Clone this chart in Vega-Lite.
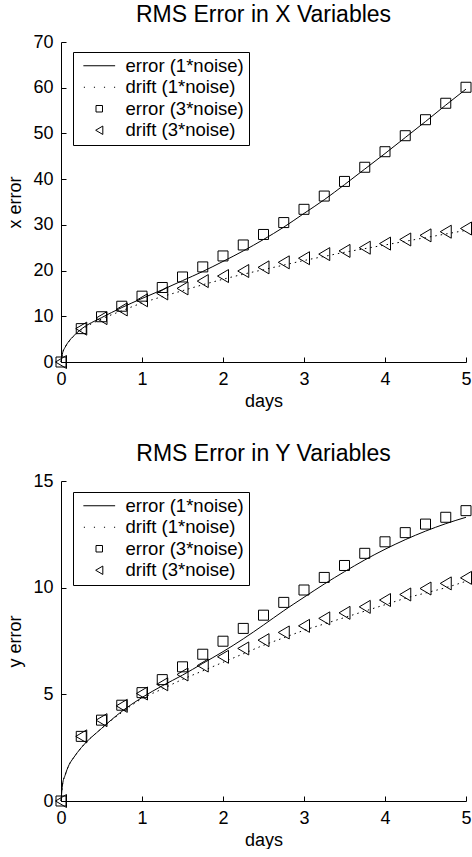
{
  "$schema": "https://vega.github.io/schema/vega-lite/v6.json",
  "background": "white",
  "padding": {"left": 6, "top": 4, "right": 0, "bottom": 0},
  "config": {
    "font": "Liberation Sans",
    "view": {"stroke": null},
    "axis": {
      "grid": false,
      "domainColor": "black",
      "domainWidth": 1,
      "tickColor": "black",
      "tickWidth": 1,
      "tickSize": -5,
      "labelColor": "black",
      "labelFontSize": 18,
      "labelPadding": 13,
      "labelFlush": false,
      "labelOverlap": false,
      "titleColor": "black",
      "titleFontSize": 18,
      "titleFontWeight": "normal"
    },
    "axisY": {"titlePadding": 8},
    "axisX": {"titlePadding": 4},
    "title": {"fontSize": 23, "fontWeight": "normal", "color": "black", "offset": 6, "anchor": "middle"},
    "legend": {
      "orient": "none",
      "legendX": 12,
      "legendY": 10,
      "title": null,
      "labelFontSize": 18.5,
      "labelColor": "black",
      "strokeColor": "black",
      "strokeWidth": 1,
      "fillColor": "white",
      "padding": 4.5,
      "rowPadding": 2.5,
      "symbolOffset": 12.5,
      "labelOffset": 17,
      "symbolSize": 42,
      "symbolStrokeWidth": 1,
      "symbolStrokeColor": "black",
      "symbolFillColor": "transparent"
    }
  },
  "spacing": 33,
  "resolve": {"scale": {"shape": "independent"}, "legend": {"shape": "independent"}},
  "data": {"values": [
    {"panel": "X", "series": "error (1*noise)", "days": 0, "value": 0},
    {"panel": "X", "series": "error (1*noise)", "days": 0.02, "value": 2.0},
    {"panel": "X", "series": "error (1*noise)", "days": 0.05, "value": 3.2},
    {"panel": "X", "series": "error (1*noise)", "days": 0.1, "value": 4.6},
    {"panel": "X", "series": "error (1*noise)", "days": 0.15, "value": 5.6},
    {"panel": "X", "series": "error (1*noise)", "days": 0.25, "value": 7.2},
    {"panel": "X", "series": "error (1*noise)", "days": 0.5, "value": 9.7},
    {"panel": "X", "series": "error (1*noise)", "days": 0.75, "value": 11.9},
    {"panel": "X", "series": "error (1*noise)", "days": 1.0, "value": 13.9},
    {"panel": "X", "series": "error (1*noise)", "days": 1.25, "value": 15.8},
    {"panel": "X", "series": "error (1*noise)", "days": 1.5, "value": 17.8},
    {"panel": "X", "series": "error (1*noise)", "days": 1.75, "value": 19.8},
    {"panel": "X", "series": "error (1*noise)", "days": 2.0, "value": 22.0},
    {"panel": "X", "series": "error (1*noise)", "days": 2.25, "value": 24.3},
    {"panel": "X", "series": "error (1*noise)", "days": 2.5, "value": 26.8},
    {"panel": "X", "series": "error (1*noise)", "days": 2.75, "value": 29.5},
    {"panel": "X", "series": "error (1*noise)", "days": 3.0, "value": 32.5},
    {"panel": "X", "series": "error (1*noise)", "days": 3.25, "value": 35.5},
    {"panel": "X", "series": "error (1*noise)", "days": 3.5, "value": 38.8},
    {"panel": "X", "series": "error (1*noise)", "days": 3.75, "value": 42.2},
    {"panel": "X", "series": "error (1*noise)", "days": 4.0, "value": 45.6},
    {"panel": "X", "series": "error (1*noise)", "days": 4.25, "value": 49.1},
    {"panel": "X", "series": "error (1*noise)", "days": 4.5, "value": 52.6},
    {"panel": "X", "series": "error (1*noise)", "days": 4.75, "value": 56.2},
    {"panel": "X", "series": "error (1*noise)", "days": 5.0, "value": 59.7},

    {"panel": "X", "series": "drift (1*noise)", "days": 0, "value": 0},
    {"panel": "X", "series": "drift (1*noise)", "days": 0.02, "value": 2.0},
    {"panel": "X", "series": "drift (1*noise)", "days": 0.05, "value": 3.2},
    {"panel": "X", "series": "drift (1*noise)", "days": 0.1, "value": 4.5},
    {"panel": "X", "series": "drift (1*noise)", "days": 0.15, "value": 5.5},
    {"panel": "X", "series": "drift (1*noise)", "days": 0.25, "value": 7.0},
    {"panel": "X", "series": "drift (1*noise)", "days": 0.5, "value": 9.4},
    {"panel": "X", "series": "drift (1*noise)", "days": 0.75, "value": 11.2},
    {"panel": "X", "series": "drift (1*noise)", "days": 1.0, "value": 12.9},
    {"panel": "X", "series": "drift (1*noise)", "days": 1.25, "value": 14.3},
    {"panel": "X", "series": "drift (1*noise)", "days": 1.5, "value": 15.6},
    {"panel": "X", "series": "drift (1*noise)", "days": 1.75, "value": 16.9},
    {"panel": "X", "series": "drift (1*noise)", "days": 2.0, "value": 18.1},
    {"panel": "X", "series": "drift (1*noise)", "days": 2.25, "value": 19.2},
    {"panel": "X", "series": "drift (1*noise)", "days": 2.5, "value": 20.2},
    {"panel": "X", "series": "drift (1*noise)", "days": 2.75, "value": 21.2},
    {"panel": "X", "series": "drift (1*noise)", "days": 3.0, "value": 22.2},
    {"panel": "X", "series": "drift (1*noise)", "days": 3.25, "value": 23.1},
    {"panel": "X", "series": "drift (1*noise)", "days": 3.5, "value": 24.0},
    {"panel": "X", "series": "drift (1*noise)", "days": 3.75, "value": 24.8},
    {"panel": "X", "series": "drift (1*noise)", "days": 4.0, "value": 25.6},
    {"panel": "X", "series": "drift (1*noise)", "days": 4.25, "value": 26.4},
    {"panel": "X", "series": "drift (1*noise)", "days": 4.5, "value": 27.2},
    {"panel": "X", "series": "drift (1*noise)", "days": 4.75, "value": 28.0},
    {"panel": "X", "series": "drift (1*noise)", "days": 5.0, "value": 28.8},

    {"panel": "X", "series": "error (3*noise)", "days": 0, "value": 0},
    {"panel": "X", "series": "error (3*noise)", "days": 0.25, "value": 7.3},
    {"panel": "X", "series": "error (3*noise)", "days": 0.5, "value": 9.9},
    {"panel": "X", "series": "error (3*noise)", "days": 0.75, "value": 12.2},
    {"panel": "X", "series": "error (3*noise)", "days": 1.0, "value": 14.4},
    {"panel": "X", "series": "error (3*noise)", "days": 1.25, "value": 16.3},
    {"panel": "X", "series": "error (3*noise)", "days": 1.5, "value": 18.6},
    {"panel": "X", "series": "error (3*noise)", "days": 1.75, "value": 20.8},
    {"panel": "X", "series": "error (3*noise)", "days": 2.0, "value": 23.2},
    {"panel": "X", "series": "error (3*noise)", "days": 2.25, "value": 25.6},
    {"panel": "X", "series": "error (3*noise)", "days": 2.5, "value": 27.9},
    {"panel": "X", "series": "error (3*noise)", "days": 2.75, "value": 30.5},
    {"panel": "X", "series": "error (3*noise)", "days": 3.0, "value": 33.4},
    {"panel": "X", "series": "error (3*noise)", "days": 3.25, "value": 36.3},
    {"panel": "X", "series": "error (3*noise)", "days": 3.5, "value": 39.5},
    {"panel": "X", "series": "error (3*noise)", "days": 3.75, "value": 42.6},
    {"panel": "X", "series": "error (3*noise)", "days": 4.0, "value": 46.0},
    {"panel": "X", "series": "error (3*noise)", "days": 4.25, "value": 49.5},
    {"panel": "X", "series": "error (3*noise)", "days": 4.5, "value": 53.0},
    {"panel": "X", "series": "error (3*noise)", "days": 4.75, "value": 56.6},
    {"panel": "X", "series": "error (3*noise)", "days": 5.0, "value": 60.1},

    {"panel": "X", "series": "drift (3*noise)", "days": 0, "value": 0},
    {"panel": "X", "series": "drift (3*noise)", "days": 0.25, "value": 7.3},
    {"panel": "X", "series": "drift (3*noise)", "days": 0.5, "value": 9.6},
    {"panel": "X", "series": "drift (3*noise)", "days": 0.75, "value": 11.5},
    {"panel": "X", "series": "drift (3*noise)", "days": 1.0, "value": 13.5},
    {"panel": "X", "series": "drift (3*noise)", "days": 1.25, "value": 15.0},
    {"panel": "X", "series": "drift (3*noise)", "days": 1.5, "value": 16.1},
    {"panel": "X", "series": "drift (3*noise)", "days": 1.75, "value": 17.7},
    {"panel": "X", "series": "drift (3*noise)", "days": 2.0, "value": 18.8},
    {"panel": "X", "series": "drift (3*noise)", "days": 2.25, "value": 19.9},
    {"panel": "X", "series": "drift (3*noise)", "days": 2.5, "value": 20.7},
    {"panel": "X", "series": "drift (3*noise)", "days": 2.75, "value": 21.8},
    {"panel": "X", "series": "drift (3*noise)", "days": 3.0, "value": 22.7},
    {"panel": "X", "series": "drift (3*noise)", "days": 3.25, "value": 23.6},
    {"panel": "X", "series": "drift (3*noise)", "days": 3.5, "value": 24.3},
    {"panel": "X", "series": "drift (3*noise)", "days": 3.75, "value": 25.0},
    {"panel": "X", "series": "drift (3*noise)", "days": 4.0, "value": 25.9},
    {"panel": "X", "series": "drift (3*noise)", "days": 4.25, "value": 26.8},
    {"panel": "X", "series": "drift (3*noise)", "days": 4.5, "value": 27.7},
    {"panel": "X", "series": "drift (3*noise)", "days": 4.75, "value": 28.5},
    {"panel": "X", "series": "drift (3*noise)", "days": 5.0, "value": 29.2},

    {"panel": "Y", "series": "error (1*noise)", "days": 0, "value": 0},
    {"panel": "Y", "series": "error (1*noise)", "days": 0.02, "value": 0.8},
    {"panel": "Y", "series": "error (1*noise)", "days": 0.05, "value": 1.2},
    {"panel": "Y", "series": "error (1*noise)", "days": 0.1, "value": 1.7},
    {"panel": "Y", "series": "error (1*noise)", "days": 0.15, "value": 2.0},
    {"panel": "Y", "series": "error (1*noise)", "days": 0.25, "value": 2.5},
    {"panel": "Y", "series": "error (1*noise)", "days": 0.5, "value": 3.4},
    {"panel": "Y", "series": "error (1*noise)", "days": 0.75, "value": 4.2},
    {"panel": "Y", "series": "error (1*noise)", "days": 1.0, "value": 4.85},
    {"panel": "Y", "series": "error (1*noise)", "days": 1.25, "value": 5.4},
    {"panel": "Y", "series": "error (1*noise)", "days": 1.5, "value": 5.9},
    {"panel": "Y", "series": "error (1*noise)", "days": 1.75, "value": 6.45},
    {"panel": "Y", "series": "error (1*noise)", "days": 2.0, "value": 7.0},
    {"panel": "Y", "series": "error (1*noise)", "days": 2.25, "value": 7.6},
    {"panel": "Y", "series": "error (1*noise)", "days": 2.5, "value": 8.25},
    {"panel": "Y", "series": "error (1*noise)", "days": 2.75, "value": 8.92},
    {"panel": "Y", "series": "error (1*noise)", "days": 3.0, "value": 9.55},
    {"panel": "Y", "series": "error (1*noise)", "days": 3.25, "value": 10.17},
    {"panel": "Y", "series": "error (1*noise)", "days": 3.5, "value": 10.75},
    {"panel": "Y", "series": "error (1*noise)", "days": 3.75, "value": 11.3},
    {"panel": "Y", "series": "error (1*noise)", "days": 4.0, "value": 11.8},
    {"panel": "Y", "series": "error (1*noise)", "days": 4.25, "value": 12.25},
    {"panel": "Y", "series": "error (1*noise)", "days": 4.5, "value": 12.65},
    {"panel": "Y", "series": "error (1*noise)", "days": 4.75, "value": 13.0},
    {"panel": "Y", "series": "error (1*noise)", "days": 5.0, "value": 13.3},

    {"panel": "Y", "series": "drift (1*noise)", "days": 0, "value": 0},
    {"panel": "Y", "series": "drift (1*noise)", "days": 0.02, "value": 0.8},
    {"panel": "Y", "series": "drift (1*noise)", "days": 0.05, "value": 1.2},
    {"panel": "Y", "series": "drift (1*noise)", "days": 0.1, "value": 1.7},
    {"panel": "Y", "series": "drift (1*noise)", "days": 0.15, "value": 2.0},
    {"panel": "Y", "series": "drift (1*noise)", "days": 0.25, "value": 2.5},
    {"panel": "Y", "series": "drift (1*noise)", "days": 0.5, "value": 3.4},
    {"panel": "Y", "series": "drift (1*noise)", "days": 0.75, "value": 4.15},
    {"panel": "Y", "series": "drift (1*noise)", "days": 1.0, "value": 4.8},
    {"panel": "Y", "series": "drift (1*noise)", "days": 1.25, "value": 5.25},
    {"panel": "Y", "series": "drift (1*noise)", "days": 1.5, "value": 5.7},
    {"panel": "Y", "series": "drift (1*noise)", "days": 1.75, "value": 6.1},
    {"panel": "Y", "series": "drift (1*noise)", "days": 2.0, "value": 6.5},
    {"panel": "Y", "series": "drift (1*noise)", "days": 2.25, "value": 6.9},
    {"panel": "Y", "series": "drift (1*noise)", "days": 2.5, "value": 7.3},
    {"panel": "Y", "series": "drift (1*noise)", "days": 2.75, "value": 7.65},
    {"panel": "Y", "series": "drift (1*noise)", "days": 3.0, "value": 8.0},
    {"panel": "Y", "series": "drift (1*noise)", "days": 3.25, "value": 8.3},
    {"panel": "Y", "series": "drift (1*noise)", "days": 3.5, "value": 8.6},
    {"panel": "Y", "series": "drift (1*noise)", "days": 3.75, "value": 8.9},
    {"panel": "Y", "series": "drift (1*noise)", "days": 4.0, "value": 9.2},
    {"panel": "Y", "series": "drift (1*noise)", "days": 4.25, "value": 9.5},
    {"panel": "Y", "series": "drift (1*noise)", "days": 4.5, "value": 9.75},
    {"panel": "Y", "series": "drift (1*noise)", "days": 4.75, "value": 10.0},
    {"panel": "Y", "series": "drift (1*noise)", "days": 5.0, "value": 10.3},

    {"panel": "Y", "series": "error (3*noise)", "days": 0, "value": 0},
    {"panel": "Y", "series": "error (3*noise)", "days": 0.25, "value": 3.03},
    {"panel": "Y", "series": "error (3*noise)", "days": 0.5, "value": 3.79},
    {"panel": "Y", "series": "error (3*noise)", "days": 0.75, "value": 4.49},
    {"panel": "Y", "series": "error (3*noise)", "days": 1.0, "value": 5.08},
    {"panel": "Y", "series": "error (3*noise)", "days": 1.25, "value": 5.69},
    {"panel": "Y", "series": "error (3*noise)", "days": 1.5, "value": 6.29},
    {"panel": "Y", "series": "error (3*noise)", "days": 1.75, "value": 6.88},
    {"panel": "Y", "series": "error (3*noise)", "days": 2.0, "value": 7.49},
    {"panel": "Y", "series": "error (3*noise)", "days": 2.25, "value": 8.09},
    {"panel": "Y", "series": "error (3*noise)", "days": 2.5, "value": 8.71},
    {"panel": "Y", "series": "error (3*noise)", "days": 2.75, "value": 9.31},
    {"panel": "Y", "series": "error (3*noise)", "days": 3.0, "value": 9.89},
    {"panel": "Y", "series": "error (3*noise)", "days": 3.25, "value": 10.48},
    {"panel": "Y", "series": "error (3*noise)", "days": 3.5, "value": 11.04},
    {"panel": "Y", "series": "error (3*noise)", "days": 3.75, "value": 11.61},
    {"panel": "Y", "series": "error (3*noise)", "days": 4.0, "value": 12.15},
    {"panel": "Y", "series": "error (3*noise)", "days": 4.25, "value": 12.58},
    {"panel": "Y", "series": "error (3*noise)", "days": 4.5, "value": 12.98},
    {"panel": "Y", "series": "error (3*noise)", "days": 4.75, "value": 13.3},
    {"panel": "Y", "series": "error (3*noise)", "days": 5.0, "value": 13.61},

    {"panel": "Y", "series": "drift (3*noise)", "days": 0, "value": 0},
    {"panel": "Y", "series": "drift (3*noise)", "days": 0.25, "value": 3.03},
    {"panel": "Y", "series": "drift (3*noise)", "days": 0.5, "value": 3.79},
    {"panel": "Y", "series": "drift (3*noise)", "days": 0.75, "value": 4.46},
    {"panel": "Y", "series": "drift (3*noise)", "days": 1.0, "value": 5.04},
    {"panel": "Y", "series": "drift (3*noise)", "days": 1.25, "value": 5.47},
    {"panel": "Y", "series": "drift (3*noise)", "days": 1.5, "value": 5.93},
    {"panel": "Y", "series": "drift (3*noise)", "days": 1.75, "value": 6.35},
    {"panel": "Y", "series": "drift (3*noise)", "days": 2.0, "value": 6.76},
    {"panel": "Y", "series": "drift (3*noise)", "days": 2.25, "value": 7.15},
    {"panel": "Y", "series": "drift (3*noise)", "days": 2.5, "value": 7.54},
    {"panel": "Y", "series": "drift (3*noise)", "days": 2.75, "value": 7.9},
    {"panel": "Y", "series": "drift (3*noise)", "days": 3.0, "value": 8.21},
    {"panel": "Y", "series": "drift (3*noise)", "days": 3.25, "value": 8.56},
    {"panel": "Y", "series": "drift (3*noise)", "days": 3.5, "value": 8.82},
    {"panel": "Y", "series": "drift (3*noise)", "days": 3.75, "value": 9.1},
    {"panel": "Y", "series": "drift (3*noise)", "days": 4.0, "value": 9.42},
    {"panel": "Y", "series": "drift (3*noise)", "days": 4.25, "value": 9.68},
    {"panel": "Y", "series": "drift (3*noise)", "days": 4.5, "value": 9.96},
    {"panel": "Y", "series": "drift (3*noise)", "days": 4.75, "value": 10.2},
    {"panel": "Y", "series": "drift (3*noise)", "days": 5.0, "value": 10.46}
  ]},
  "vconcat": [
    {
      "width": 405,
      "height": 320,
      "title": "RMS Error in X Variables",
      "transform": [{"filter": "datum.panel === 'X'"}],
      "encoding": {
        "x": {"field": "days", "type": "quantitative", "scale": {"domain": [0, 5], "nice": false}, "axis": {"title": "days", "values": [0, 1, 2, 3, 4, 5], "format": "d"}},
        "y": {"field": "value", "type": "quantitative", "scale": {"domain": [0, 70], "nice": false}, "axis": {"title": "x error", "values": [0, 10, 20, 30, 40, 50, 60, 70], "format": "d"}}
      },
      "layer": [
        {
          "transform": [{"filter": "datum.series === 'error (1*noise)'"}],
          "mark": {"type": "line", "color": "black", "strokeWidth": 1, "interpolate": "monotone", "clip": false}
        },
        {
          "transform": [{"filter": "datum.series === 'drift (1*noise)'"}],
          "mark": {"type": "line", "color": "black", "strokeWidth": 1, "strokeDash": [1.5, 4], "interpolate": "monotone", "clip": false}
        },
        {
          "transform": [{"filter": "datum.series === 'error (3*noise)' || datum.series === 'drift (3*noise)'"}],
          "mark": {"type": "point", "filled": false, "color": "black", "size": 100, "strokeWidth": 1, "opacity": 1, "clip": false},
          "encoding": {
            "shape": {
              "field": "series", "type": "nominal",
              "scale": {
                "domain": ["error (1*noise)", "drift (1*noise)", "error (3*noise)", "drift (3*noise)"],
                "range": ["M-4.9,0H4.9", "M-4.75,0h0.35M-1.65,0h0.35M1.45,0h0.35M4.55,0h0.35", "square", "M-1.1,0L1.1,-1.3L1.1,1.3Z"]
              },
              "legend": {"symbolSize": 42, "legendY": 10}
            }
          }
        }
      ]
    },
    {
      "width": 405,
      "height": 320,
      "title": "RMS Error in Y Variables",
      "transform": [{"filter": "datum.panel === 'Y'"}],
      "encoding": {
        "x": {"field": "days", "type": "quantitative", "scale": {"domain": [0, 5], "nice": false}, "axis": {"title": "days", "values": [0, 1, 2, 3, 4, 5], "format": "d"}},
        "y": {"field": "value", "type": "quantitative", "scale": {"domain": [0, 15], "nice": false}, "axis": {"title": "y error", "values": [0, 5, 10, 15], "format": "d"}}
      },
      "layer": [
        {
          "transform": [{"filter": "datum.series === 'error (1*noise)'"}],
          "mark": {"type": "line", "color": "black", "strokeWidth": 1, "interpolate": "monotone", "clip": false}
        },
        {
          "transform": [{"filter": "datum.series === 'drift (1*noise)'"}],
          "mark": {"type": "line", "color": "black", "strokeWidth": 1, "strokeDash": [1.5, 4], "interpolate": "monotone", "clip": false}
        },
        {
          "transform": [{"filter": "datum.series === 'error (3*noise)' || datum.series === 'drift (3*noise)'"}],
          "mark": {"type": "point", "filled": false, "color": "black", "size": 100, "strokeWidth": 1, "opacity": 1, "clip": false},
          "encoding": {
            "shape": {
              "field": "series", "type": "nominal",
              "scale": {
                "domain": ["error (1*noise)", "drift (1*noise)", "error (3*noise)", "drift (3*noise)"],
                "range": ["M-4.9,0H4.9", "M-4.75,0h0.35M-1.65,0h0.35M1.45,0h0.35M4.55,0h0.35", "square", "M-1.1,0L1.1,-1.3L1.1,1.3Z"]
              },
              "legend": {"symbolSize": 42, "legendY": 11}
            }
          }
        }
      ]
    }
  ]
}
